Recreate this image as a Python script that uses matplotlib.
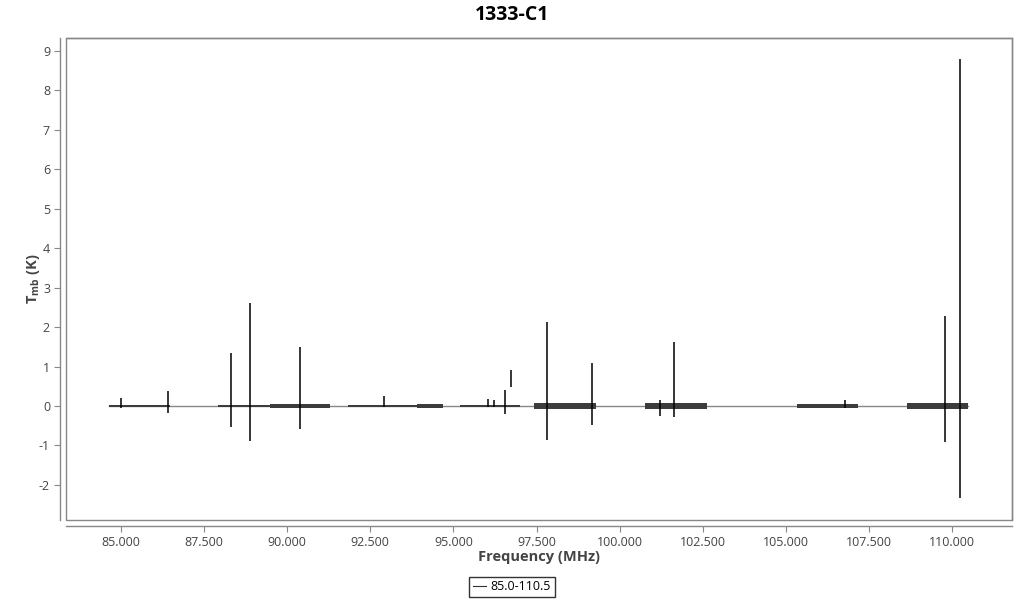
import matplotlib
matplotlib.use("Agg")
import matplotlib.pyplot as plt
from matplotlib.patches import Rectangle
import numpy as np

plt.rcParams['font.family'] = ['Open Sans', 'DejaVu Sans']
plt.rcParams['mathtext.fontset'] = 'custom'
plt.rcParams['mathtext.rm'] = 'Open Sans'
plt.rcParams['mathtext.bf'] = 'Open Sans:bold'
plt.rcParams['axes.unicode_minus'] = False

# ---- data ----
title = "1333-C1"
series_name = "85.0-110.5"

# noise bands of the spectrum segments: start, end (MHz), half-width (K)
band_start = [84.64, 87.92, 89.50, 91.83, 93.90, 95.20, 97.42, 100.76, 105.34, 108.65]
band_end   = [86.47, 89.50, 91.29, 93.90, 94.69, 97.00, 99.29, 102.63, 107.17, 110.48]
band_noise = [0.03, 0.03, 0.05, 0.015, 0.04, 0.02, 0.08, 0.08, 0.04, 0.07]

# lines: frequency (MHz), peak (K), trough (K)
line_freq   = [84.99, 86.42, 88.31, 88.88, 90.38, 92.92, 96.05, 96.23, 96.55,
               97.83, 99.16, 101.20, 101.62, 106.78, 109.79, 110.24]
line_peak   = [0.20, 0.38, 1.35, 2.62, 1.49, 0.25, 0.18, 0.15, 0.41,
               2.12, 1.08, 0.15, 1.62, 0.15, 2.28, 8.81]
line_trough = [-0.05, -0.18, -0.52, -0.88, -0.58, -0.03, -0.03, -0.03, -0.19,
               -0.85, -0.48, -0.25, -0.27, -0.04, -0.91, -2.33]

# isolated piece of a line (MHz, low K, high K)
piece_freq = [96.73]
piece_low  = [0.48]
piece_high = [0.91]

x_ticks = [85, 87.5, 90, 92.5, 95, 97.5, 100, 102.5, 105, 107.5, 110]
y_ticks = list(range(-2, 10))

# ---- figure ----
fig = plt.figure(figsize=(10.24, 6.0), dpi=100)
ax = fig.add_axes([66/1024, 1-520/600, (1012-66)/1024, (520-38)/600])

gray = '#888888'
# baseline connecting the segments
ax.plot([band_start[0], band_end[-1]], [0, 0], color=gray, lw=1.0, zorder=2)

# noise bands
for s, e, n in zip(band_start, band_end, band_noise):
    ax.fill_between([s, e], [-n, -n], [n, n], color='#3c3c3c', lw=0, zorder=3)

# spectral lines
ax.vlines(line_freq, line_trough, line_peak, color='black', lw=1.1, zorder=4)
ax.vlines(piece_freq, piece_low, piece_high, color='black', lw=1.1, zorder=4)

# legend handle
ax.plot([], [], color='#333333', lw=0.8, label=series_name)

ax.set_xlim(83.35, 111.8)
ax.set_ylim(-2.89, 9.33)
ax.set_xticks(x_ticks)
ax.set_xticklabels([f"{v:.3f}" for v in x_ticks])
ax.set_yticks(y_ticks)

for side in ['top', 'right']:
    ax.spines[side].set_color(gray)
    ax.spines[side].set_linewidth(1.0)
for side in ['left', 'bottom']:
    ax.spines[side].set_color(gray)
    ax.spines[side].set_position(('outward', 4))
    ax.spines[side].set_linewidth(1.0)
# inner box edges
ax.add_patch(Rectangle((0, 0), 1, 1, transform=ax.transAxes, fill=False,
                       edgecolor=gray, lw=1.0, clip_on=False, zorder=1))

ax.tick_params(axis='both', colors=gray, labelcolor='#444444', labelsize=9,
               length=4, width=0.8)

ax.set_xlabel("Frequency (MHz)", fontsize=10.5, fontweight='bold', color='#444444')
ax.set_ylabel(r"$\mathbf{T_{mb}}$ (K)", fontsize=10.5, fontweight='bold', color='#444444')
ax.xaxis.set_label_coords(0.5, (520-557)/482, transform=ax.transAxes)
ax.yaxis.set_label_coords((33-66)/946, 0.5, transform=ax.transAxes)
ax.xaxis.label.set_va('center')
ax.yaxis.label.set_va('center')

fig.text(0.5, 1-15/600, title, ha='center', va='center', fontsize=14, fontweight='bold', color='black')

leg = fig.legend(loc='center', bbox_to_anchor=(512/1024, 1-587/600), frameon=True,
                 fontsize=9, handlelength=1.0, handletextpad=0.4, borderpad=0.3,
                 fancybox=False)
leg.get_frame().set_edgecolor('black')
leg.get_frame().set_linewidth(1.0)

fig.savefig("out.png", dpi=100)
